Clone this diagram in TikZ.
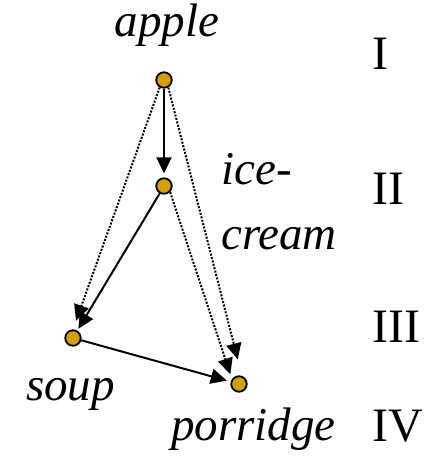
\documentclass[tikz,border=0pt]{standalone}
\usepackage{fontspec}
\setmainfont{Liberation Serif}[ItalicFont={Liberation Serif Italic},BoldFont={Liberation Serif Bold}]
\usetikzlibrary{arrows.meta}
\definecolor{dotfill}{RGB}{212,160,0}
\begin{document}
\begin{tikzpicture}[x=1pt,y=1pt,
  vert/.style={circle,draw=black,line width=1.8pt,fill=dotfill,minimum size=15.5pt,inner sep=0pt},
  lab/.style={inner sep=0pt,font=\fontsize{47}{56}\selectfont\itshape},
  lvl/.style={inner sep=0pt,anchor=base west,font=\fontsize{48}{56}\selectfont},
  solidarr/.style={line width=2pt,-{Triangle[length=16pt,width=15pt]}},
  dotarr/.style={line width=2pt,dash pattern=on 2pt off 1.5pt,-{Triangle[length=16pt,width=15pt]}}]
\useasboundingbox (0,0) rectangle (432,459);
\node[vert] (apple) at (164,379) {};
\node[vert] (ice) at (164,273) {};
\node[vert] (soup) at (73,121) {};
\node[vert] (porridge) at (239,75) {};

\node[lab,anchor=base] (tapple) at (167,422) {apple};
\node[lab,anchor=base west] (tice) at (221,274) {ice-};
\node[lab,anchor=base west] (tcream) at (221,209) {cream};
\node[lab,anchor=base west] (tsoup) at (26,59) {soup};
\node[lab,anchor=base west] (tporridge) at (171,19) {porridge};

\node[lvl] (l1) at (372,389) {I};
\node[lvl] (l2) at (372,254) {II};
\node[lvl] (l3) at (372,117) {III};
\node[lvl] (l4) at (372,17) {IV};

\draw[solidarr,shorten >=4pt] (apple) -- (ice);
\draw[solidarr,shorten >=2pt] (ice.-120) -- (soup.60);
\draw[solidarr,shorten >=4pt] (soup) -- (porridge);
\draw[dotarr,shorten >=9pt] (apple.-120) -- (soup.90);
\draw[dotarr,shorten >=17pt] (apple.-60) -- (porridge.70);
\draw[dotarr,shorten >=5pt] (ice.-45) -- (porridge.145);
\end{tikzpicture}
\end{document}
